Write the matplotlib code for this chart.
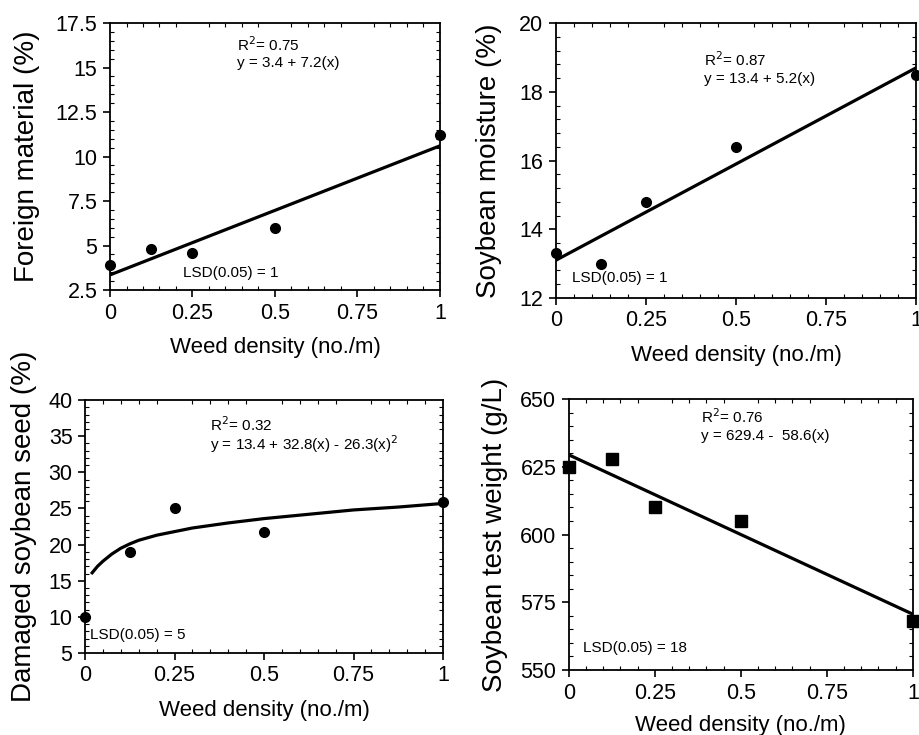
import matplotlib
matplotlib.use("Agg")
import matplotlib.pyplot as plt
from matplotlib.ticker import AutoMinorLocator

plt.rcParams['font.family'] = ['Liberation Sans', 'DejaVu Sans']

# densidad de malezas (igual para los 4 paneles)
densidad = [0, 0.125, 0.25, 0.5, 1]

# panel 1: material extraño
material = [3.9, 4.8, 4.6, 6.0, 11.2]
material_recta = [3.35, 10.6]

# panel 2: humedad
humedad = [13.3, 13.0, 14.8, 16.4, 18.5]
humedad_recta = [13.1, 18.7]

# panel 3: semilla dañada (curva)
danada = [10.0, 19.0, 25.1, 21.8, 25.9]
curva_x = [0.02, 0.035, 0.05, 0.075, 0.1, 0.125, 0.15, 0.2, 0.25, 0.3, 0.4, 0.5, 0.625, 0.75, 0.875, 1.0]
curva_y = [16.1, 17.0, 17.7, 18.7, 19.5, 20.1, 20.6, 21.3, 21.8, 22.3, 23.0, 23.6, 24.2, 24.8, 25.2, 25.7]

# panel 4: peso hectolitrico
peso = [625, 628, 610, 605, 568]
peso_recta = [629.4, 570.6]

xticks = [0, 0.25, 0.5, 0.75, 1]
xtick_labels = ["0", "0.25", "0.5", "0.75", "1"]

fig = plt.figure(figsize=(9.19, 7.35), dpi=100)

paneles = [
    # rect, ylabel, ylim, yticks, ytick labels
    ([0.1197, 0.6054, 0.359, 0.3633], "Foreign material (%)", (2.5, 17.5),
     [2.5, 5, 7.5, 10, 12.5, 15, 17.5], ["2.5", "5", "7.5", "10", "12.5", "15", "17.5"]),
    ([0.605, 0.5946, 0.392, 0.374], "Soybean moisture (%)", (12, 20),
     [12, 14, 16, 18, 20], ["12", "14", "16", "18", "20"]),
    ([0.0925, 0.1116, 0.3896, 0.344], "Damaged soybean seed (%)", (5, 40),
     [5, 10, 15, 20, 25, 30, 35, 40], ["5", "10", "15", "20", "25", "30", "35", "40"]),
    ([0.619, 0.0884, 0.3743, 0.3687], "Soybean test weight (g/L)", (550, 650),
     [550, 575, 600, 625, 650], ["550", "575", "600", "625", "650"]),
]
ylab_x = [-0.212, -0.15, -0.134, -0.177]
xlab_y = [-0.176, -0.171, -0.186, -0.166]

ejes = []
for i, (rect, ylab, ylim, yt, ytl) in enumerate(paneles):
    ax = fig.add_axes(rect)
    ax.set_xlim(0, 1)
    ax.set_ylim(*ylim)
    ax.set_xticks(xticks)
    ax.set_xticklabels(xtick_labels)
    ax.set_yticks(yt)
    ax.set_yticklabels(ytl)
    ax.xaxis.set_minor_locator(AutoMinorLocator(5))
    ax.yaxis.set_minor_locator(AutoMinorLocator(5))
    ax.tick_params(which='major', direction='out', length=5, width=1.2,
                   labelsize=15.5, pad=4)
    ax.tick_params(which='minor', direction='in', length=3, width=0.8,
                   top=True, right=True)
    for s in ax.spines.values():
        s.set_linewidth(1.3)
    ax.set_ylabel(ylab, fontsize=20)
    ax.set_xlabel("Weed density (no./m)", fontsize=16)
    ax.yaxis.set_label_coords(ylab_x[i], 0.5)
    ax.xaxis.set_label_coords(0.5, xlab_y[i])
    ejes.append(ax)

ax1, ax2, ax3, ax4 = ejes
fs = 11

ax1.plot([0, 1], material_recta, color='black', lw=2.3)
ax1.plot(densidad, material, 'o', color='black', ms=7, clip_on=False, zorder=5)
ax1.text(0.385, 0.918, "R$^2$= 0.75", transform=ax1.transAxes, fontsize=fs, va='center')
ax1.text(0.385, 0.85, "y = 3.4 + 7.2(x)", transform=ax1.transAxes, fontsize=fs, va='center')
ax1.text(0.22, 0.065, "LSD(0.05) = 1", transform=ax1.transAxes, fontsize=fs, va='center')

ax2.plot([0, 1], humedad_recta, color='black', lw=2.3)
ax2.plot(densidad, humedad, 'o', color='black', ms=7, clip_on=False, zorder=5)
ax2.text(0.41, 0.868, "R$^2$= 0.87", transform=ax2.transAxes, fontsize=fs, va='center')
ax2.text(0.41, 0.795, "y = 13.4 + 5.2(x)", transform=ax2.transAxes, fontsize=fs, va='center')
ax2.text(0.045, 0.073, "LSD(0.05) = 1", transform=ax2.transAxes, fontsize=fs, va='center')

ax3.plot(curva_x, curva_y, color='black', lw=2.3)
ax3.plot(densidad, danada, 'o', color='black', ms=7, clip_on=False, zorder=5)
ax3.text(0.35, 0.905, "R$^2$= 0.32", transform=ax3.transAxes, fontsize=fs, va='center')
ax3.text(0.35, 0.825, "y = 13.4 + 32.8(x) - 26.3(x)$^2$", transform=ax3.transAxes,
         fontsize=fs, va='center')
ax3.text(0.015, 0.07, "LSD(0.05) = 5", transform=ax3.transAxes, fontsize=fs, va='center')

ax4.plot([0, 1], peso_recta, color='black', lw=2.3)
ax4.plot(densidad, peso, 's', color='black', ms=8.5, clip_on=False, zorder=5)
ax4.text(0.384, 0.935, "R$^2$= 0.76", transform=ax4.transAxes, fontsize=fs, va='center')
ax4.text(0.384, 0.863, "y = 629.4 -  58.6(x)", transform=ax4.transAxes, fontsize=fs, va='center')
ax4.text(0.04, 0.08, "LSD(0.05) = 18", transform=ax4.transAxes, fontsize=fs, va='center')

fig.savefig("out.png", dpi=100)
